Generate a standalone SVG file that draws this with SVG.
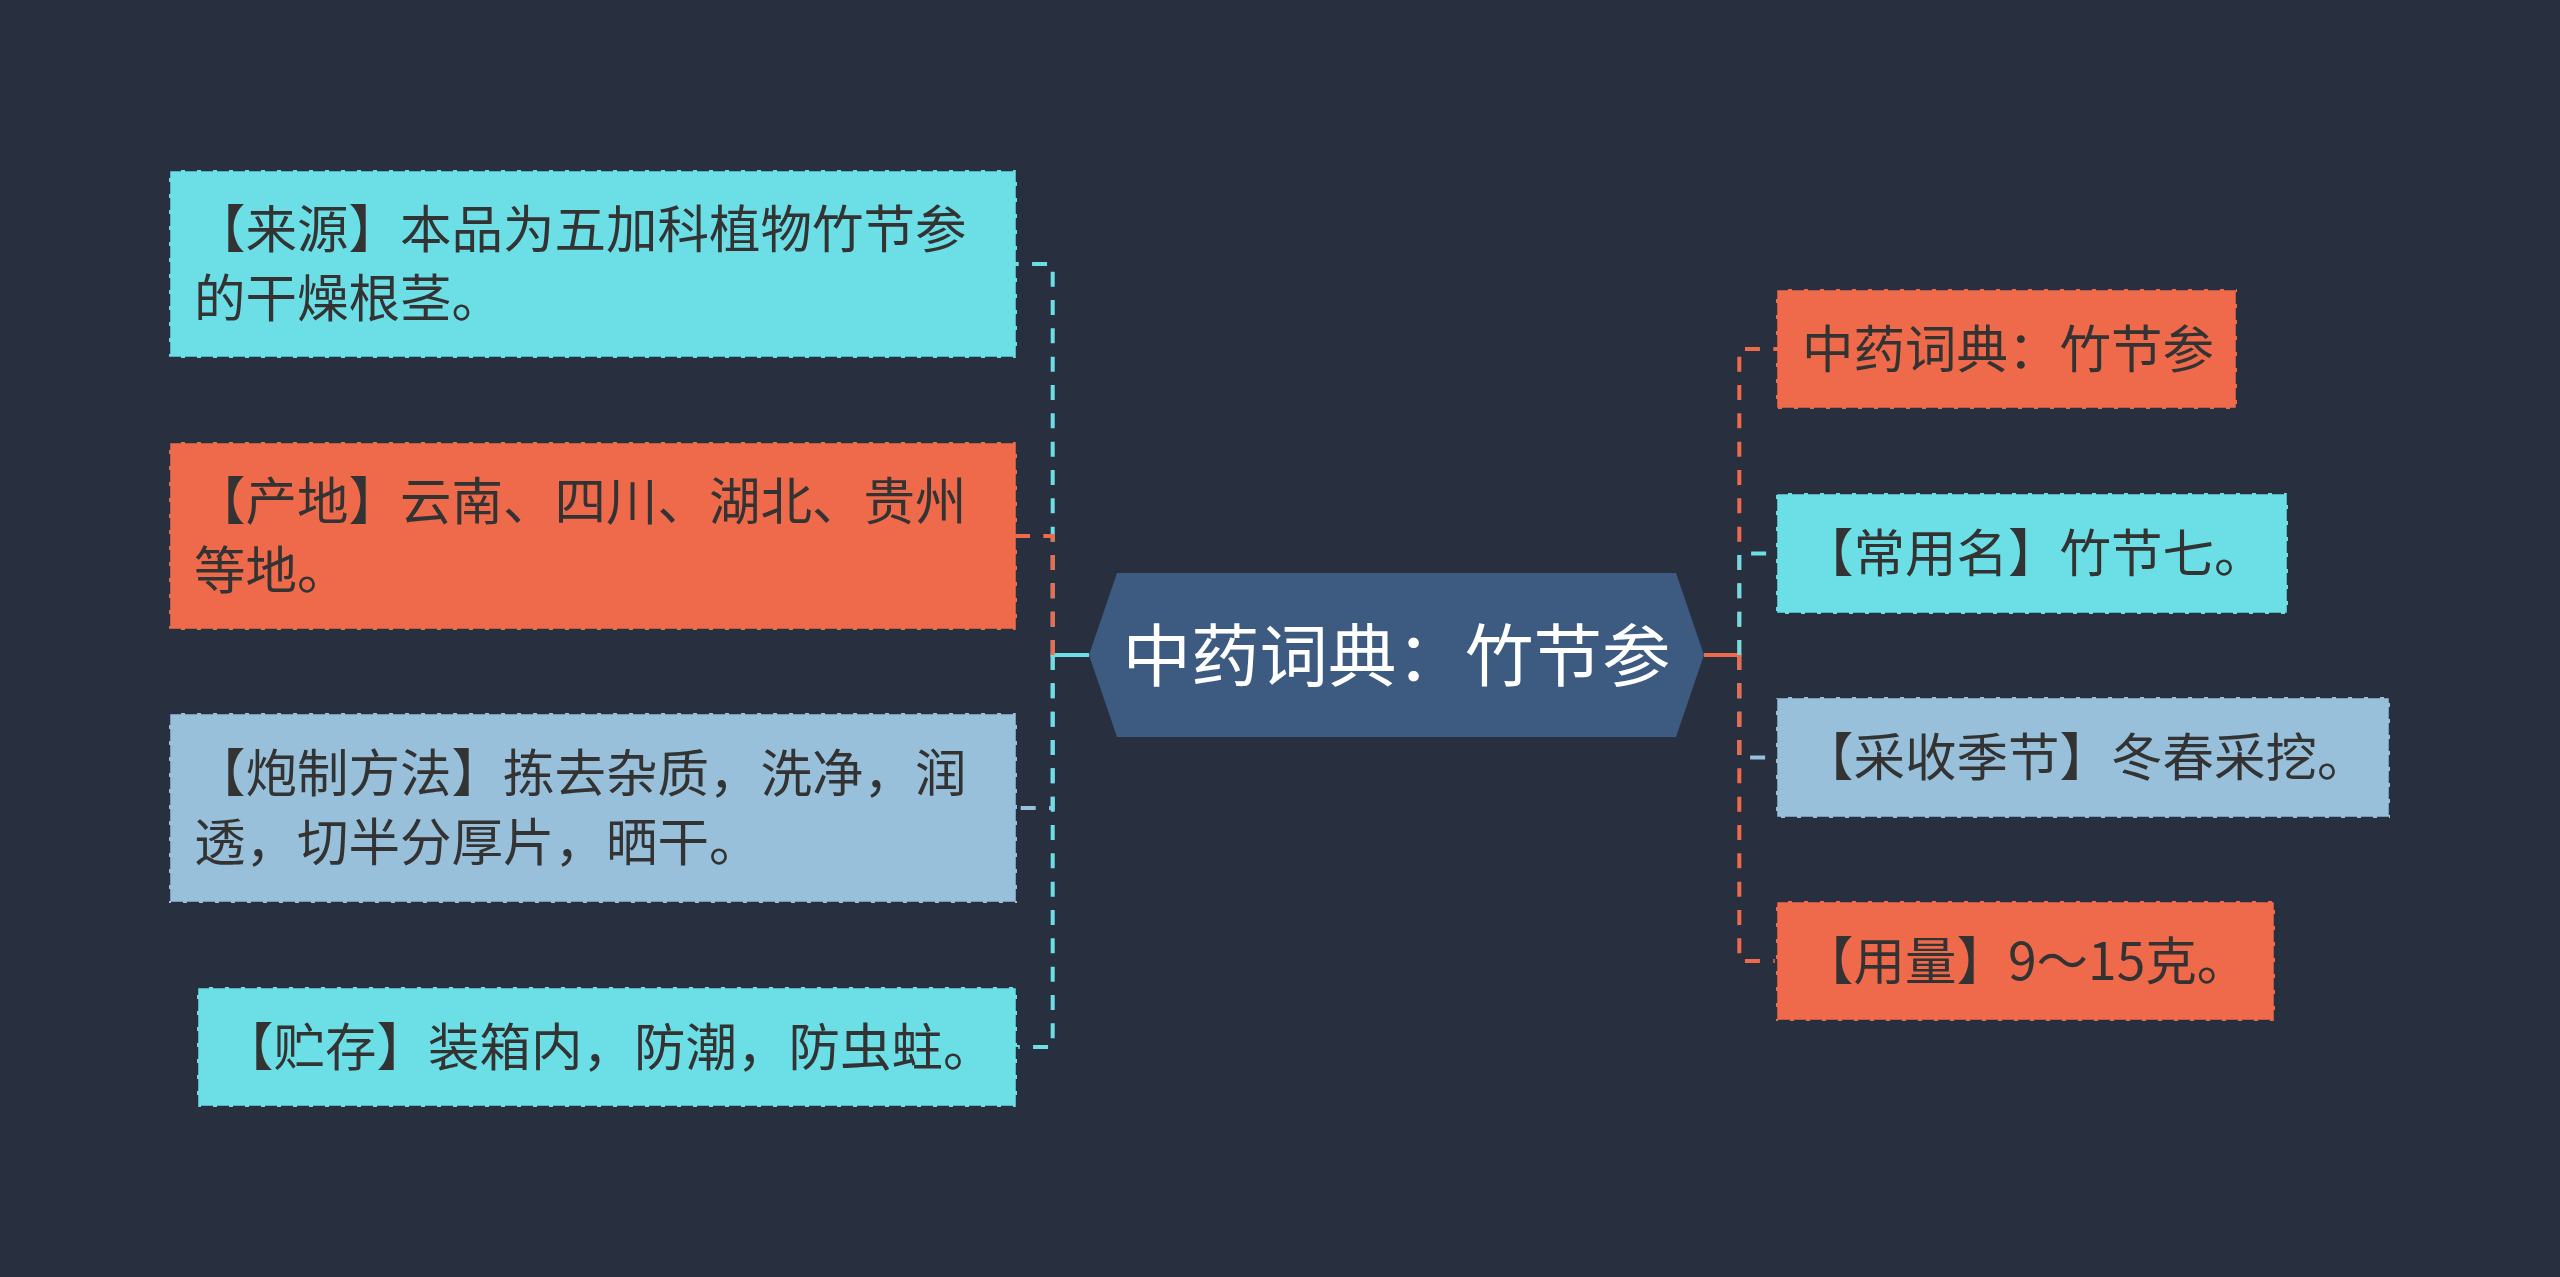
<svg xmlns="http://www.w3.org/2000/svg" width="2560" height="1277" viewBox="0 0 2560 1277">
<style>
.bg{fill:#283040}
.box{stroke:#263040;stroke-width:2.5;stroke-dasharray:12 4}
.cy{fill:#6cdfe6}.or{fill:#ee6a4b}.lb{fill:#98c0da}
.t{font-family:"Noto Sans CJK SC","Noto Sans",sans-serif;font-size:51.5px;fill:#333333}
.ct{font-family:"Noto Sans CJK SC","Noto Sans",sans-serif;font-size:68.5px;fill:#ffffff}
.ln{fill:none;stroke-width:4;stroke-dasharray:15 13.33}
.sol{fill:none;stroke-width:4}
.scy{stroke:#6cdfe6}.sor{stroke:#ee6a4b}.slb{stroke:#98c0da}
</style>
<rect class="bg" x="0" y="0" width="2560" height="1277"/>
<g id="connectors">
<line class="sol scy" x1="1089" y1="655" x2="1050.7" y2="655"/>
<path class="ln scy" d="M1052.7,655 V264 H1017"/>
<path class="ln sor" d="M1052.7,655 V536 H1017"/>
<path class="ln slb" d="M1052.7,655 V808 H1017"/>
<path class="ln scy" d="M1052.7,655 V1047 H1017"/>
<line class="sol sor" x1="1704" y1="655" x2="1741.3" y2="655"/>
<path class="ln sor" d="M1739.3,655 V349 H1776"/>
<path class="ln scy" d="M1739.3,655 V553.5 H1776"/>
<path class="ln slb" d="M1739.3,655 V757.5 H1776"/>
<path class="ln sor" d="M1739.3,655 V961 H1776"/>
</g>
<g id="center">
<polygon points="1089,655 1117,573 1676,573 1704,655 1676,737 1117,737" fill="#3d5a80"/>
<text class="ct" x="1396.5" y="681" text-anchor="middle">中药词典：竹节参</text>
</g>
<g id="n-laiyuan">
<rect class="box cy" x="169" y="170" width="848" height="188"/>
<text class="t" x="194" y="248">【来源】本品为五加科植物竹节参</text>
<text class="t" x="194" y="317">的干燥根茎。</text>
</g>
<g id="n-chandi">
<rect class="box or" x="169" y="442" width="848" height="188"/>
<text class="t" x="194" y="520">【产地】云南、四川、湖北、贵州</text>
<text class="t" x="194" y="589">等地。</text>
</g>
<g id="n-paozhi">
<rect class="box lb" x="169" y="713" width="848" height="190"/>
<text class="t" x="194" y="792">【炮制方法】拣去杂质，洗净，润</text>
<text class="t" x="194" y="861">透，切半分厚片，晒干。</text>
</g>
<g id="n-zhucun">
<rect class="box cy" x="197" y="987" width="820" height="120"/>
<text class="t" x="222" y="1066">【贮存】装箱内，防潮，防虫蛀。</text>
</g>
<g id="n-title">
<rect class="box or" x="1776" y="289" width="461" height="120"/>
<text class="t" x="1802" y="368">中药词典：竹节参</text>
</g>
<g id="n-changyong">
<rect class="box cy" x="1776" y="493" width="512" height="121"/>
<text class="t" x="1802" y="572">【常用名】竹节七。</text>
</g>
<g id="n-caishou">
<rect class="box lb" x="1776" y="697" width="614" height="121"/>
<text class="t" x="1802" y="776">【采收季节】冬春采挖。</text>
</g>
<g id="n-yongliang">
<rect class="box or" x="1776" y="901" width="499" height="120"/>
<text class="t" x="1802" y="980">【用量】9～15克。</text>
</g>
</svg>
